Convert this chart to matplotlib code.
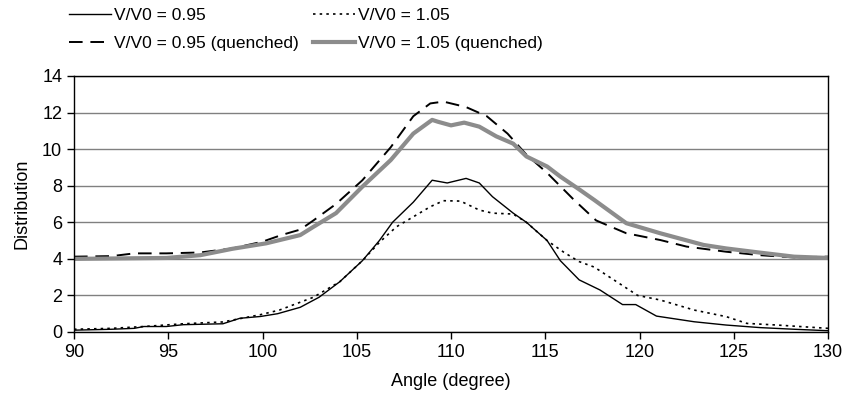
import numpy as np
import matplotlib.pyplot as plt
from matplotlib.ticker import MultipleLocator

plt.rcParams['font.family'] = ['Liberation Sans', 'DejaVu Sans']

# V/V0 = 0.95
angle_a = [90.0, 92.0, 93.2, 93.7, 94.9, 95.8, 97.9, 98.8, 99.9, 100.8, 102.0, 103.0, 104.1,
           105.3, 106.2, 106.9, 108.0, 109.0, 109.8, 110.8, 111.5, 112.2, 113.3, 114.0,
           115.1, 115.8, 116.8, 117.9, 119.1, 119.8, 120.9, 122.9, 124.6, 126.4, 128.2, 130.0]
dist_a = [0.1, 0.15, 0.2, 0.3, 0.3, 0.4, 0.45, 0.75, 0.85, 1.0, 1.35, 1.9, 2.75,
          3.9, 5.0, 6.0, 7.1, 8.3, 8.15, 8.4, 8.15, 7.4, 6.5, 6.0,
          5.0, 3.9, 2.85, 2.3, 1.5, 1.5, 0.87, 0.56, 0.38, 0.24, 0.15, 0.07]

# V/V0 = 1.05
angle_b = [90.0, 92.0, 93.7, 95.8, 97.9, 99.9, 100.9, 102.7, 104.1, 105.3, 106.2, 107.1,
           108.0, 108.9, 109.6, 110.5, 111.5, 112.2, 113.3, 114.0, 115.1, 116.0, 116.8,
           117.6, 119.9, 121.1, 122.9, 124.6, 125.7, 127.3, 130.0]
dist_b = [0.15, 0.2, 0.3, 0.45, 0.55, 0.95, 1.2, 1.9, 2.75, 3.9, 4.9, 5.75,
          6.3, 6.85, 7.18, 7.16, 6.67, 6.5, 6.45, 6.0, 5.0, 4.35, 3.85,
          3.55, 2.0, 1.75, 1.2, 0.84, 0.47, 0.38, 0.2]

# V/V0 = 0.95 (quenched)
angle_c = [90.0, 92.0, 93.2, 94.9, 96.7, 98.4, 100.0, 101.0, 102.0, 102.7, 103.9, 105.3,
           106.8, 108.0, 108.9, 109.6, 110.8, 111.9, 113.0, 114.0, 115.1, 116.5, 117.7,
           119.3, 121.1, 122.5, 124.6, 126.4, 128.2, 130.0]
dist_c = [4.12, 4.15, 4.3, 4.3, 4.35, 4.57, 4.94, 5.3, 5.6, 6.1, 7.0, 8.3,
          10.1, 11.8, 12.5, 12.6, 12.3, 11.8, 10.85, 9.7, 8.7, 7.25, 6.1,
          5.4, 5.03, 4.67, 4.39, 4.2, 4.08, 4.12]

# V/V0 = 1.05 (quenched)
angle_d = [90.0, 92.0, 94.9, 96.7, 98.4, 100.2, 101.0, 102.0, 102.7, 103.9, 105.3, 106.8,
           108.0, 109.0, 109.3, 110.0, 110.7, 111.5, 112.4, 113.3, 114.0, 115.1, 115.8,
           116.8, 117.6, 119.3, 121.1, 123.4, 124.6, 126.4, 128.2, 130.0]
dist_d = [4.0, 4.02, 4.05, 4.2, 4.55, 4.85, 5.05, 5.3, 5.75, 6.5, 7.95, 9.4,
          10.85, 11.6, 11.5, 11.3, 11.45, 11.23, 10.7, 10.3, 9.6, 9.05, 8.5,
          7.8, 7.22, 5.95, 5.4, 4.76, 4.57, 4.34, 4.12, 4.05]

labels = ['V/V0 = 0.95', 'V/V0 = 0.95 (quenched)', 'V/V0 = 1.05', 'V/V0 = 1.05 (quenched)']

fig = plt.figure(figsize=(8.45, 4.0), dpi=100)
ax = fig.add_axes([74 / 845, 1 - 332 / 400, (828 - 74) / 845, (332 - 76) / 400])

ax.grid(axis='y', color='#808080', linewidth=1.0)
ax.set_axisbelow(True)

l1, = ax.plot(angle_a, dist_a, color='black', linewidth=1.0)
l3, = ax.plot(angle_b, dist_b, color='black', linewidth=1.2, linestyle=(0, (1.5, 2.5)))
l2, = ax.plot(angle_c, dist_c, color='black', linewidth=1.4, linestyle=(0, (7, 4)))
l4, = ax.plot(angle_d, dist_d, color='#8c8c8c', linewidth=3.0)

ax.set_xlim(90, 130)
ax.set_ylim(0, 14)
ax.xaxis.set_major_locator(MultipleLocator(5))
ax.yaxis.set_major_locator(MultipleLocator(2))
ax.tick_params(direction='out', length=5, width=1, labelsize=13, colors='black')
for s in ax.spines.values():
    s.set_linewidth(1.0)
    s.set_color('black')

ax.set_xlabel('Angle (degree)', fontsize=13, labelpad=9)
ax.set_ylabel('Distribution', fontsize=13, labelpad=8)

# two legend columns placed separately
leg_kw = dict(loc='upper left', frameon=False, fontsize=12.5, handlelength=2.4,
              handletextpad=0.2, labelspacing=0.75, borderpad=0, borderaxespad=0)
leg1 = fig.legend([l1, l2], labels[:2], bbox_to_anchor=(69 / 845, 1 - 8 / 400), **leg_kw)
leg2 = fig.legend([l3, l4], labels[2:], bbox_to_anchor=(313 / 845, 1 - 8 / 400), **leg_kw)

fig.savefig('out.png', dpi=100)
